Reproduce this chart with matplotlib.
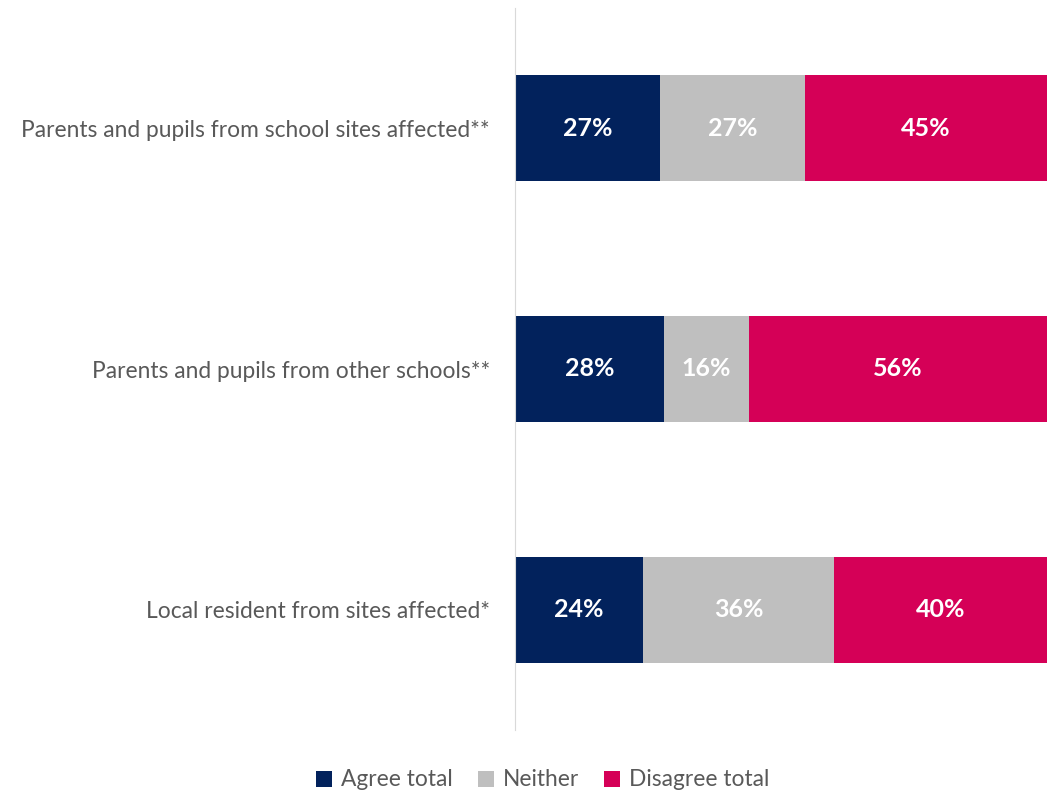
import matplotlib
matplotlib.use("Agg")
import matplotlib.pyplot as plt
import numpy as np

# data
categories = ["Parents and pupils from school sites affected**",
              "Parents and pupils from other schools**",
              "Local resident from sites affected*"]
agree = [27, 28, 24]
neither = [27, 16, 36]
disagree = [45, 56, 40]
series_names = ["Agree total", "Neither", "Disagree total"]
colors = ["#02225C", "#BFBFBF", "#D50057"]

plt.rcParams['font.family'] = ['Lato', 'DejaVu Sans']

fig = plt.figure(figsize=(10.49, 7.92), dpi=100)
ax = fig.add_axes([515 / 1049, 1 - 730 / 792, 532 / 1049, 722 / 792])

# 100% stacked, like the original
totals = np.array(agree) + np.array(neither) + np.array(disagree)
y = np.arange(len(categories))
left = np.zeros(len(categories))
for vals, name, col in zip([agree, neither, disagree], series_names, colors):
    share = np.array(vals) / totals * 100
    bars = ax.barh(y, share, left=left, height=0.44, color=col, label=name)
    for b, v in zip(bars, vals):
        ax.text(b.get_x() + b.get_width() / 2, b.get_y() + b.get_height() / 2,
                f"{v}%", ha="center", va="center", color="white",
                fontsize=18, fontweight="bold")
    left += share

ax.set_xlim(0, 100)
ax.set_ylim(-0.5, len(categories) - 0.5)
ax.invert_yaxis()
ax.set_yticks(y)
ax.set_yticklabels(categories, fontsize=16.4, color="#595959")
ax.tick_params(axis="y", length=0, pad=18)
ax.set_xticks([])
for s in ["top", "right", "bottom"]:
    ax.spines[s].set_visible(False)
ax.spines["left"].set_color("#D9D9D9")

fig.legend(loc="center", bbox_to_anchor=(543 / 1049, 1 - 780 / 792), ncol=3, frameon=False,
           fontsize=16.4, labelcolor="#595959", handlelength=0.7, handleheight=0.7,
           handletextpad=0.4, columnspacing=1.1)

fig.savefig("out.png", dpi=100)
